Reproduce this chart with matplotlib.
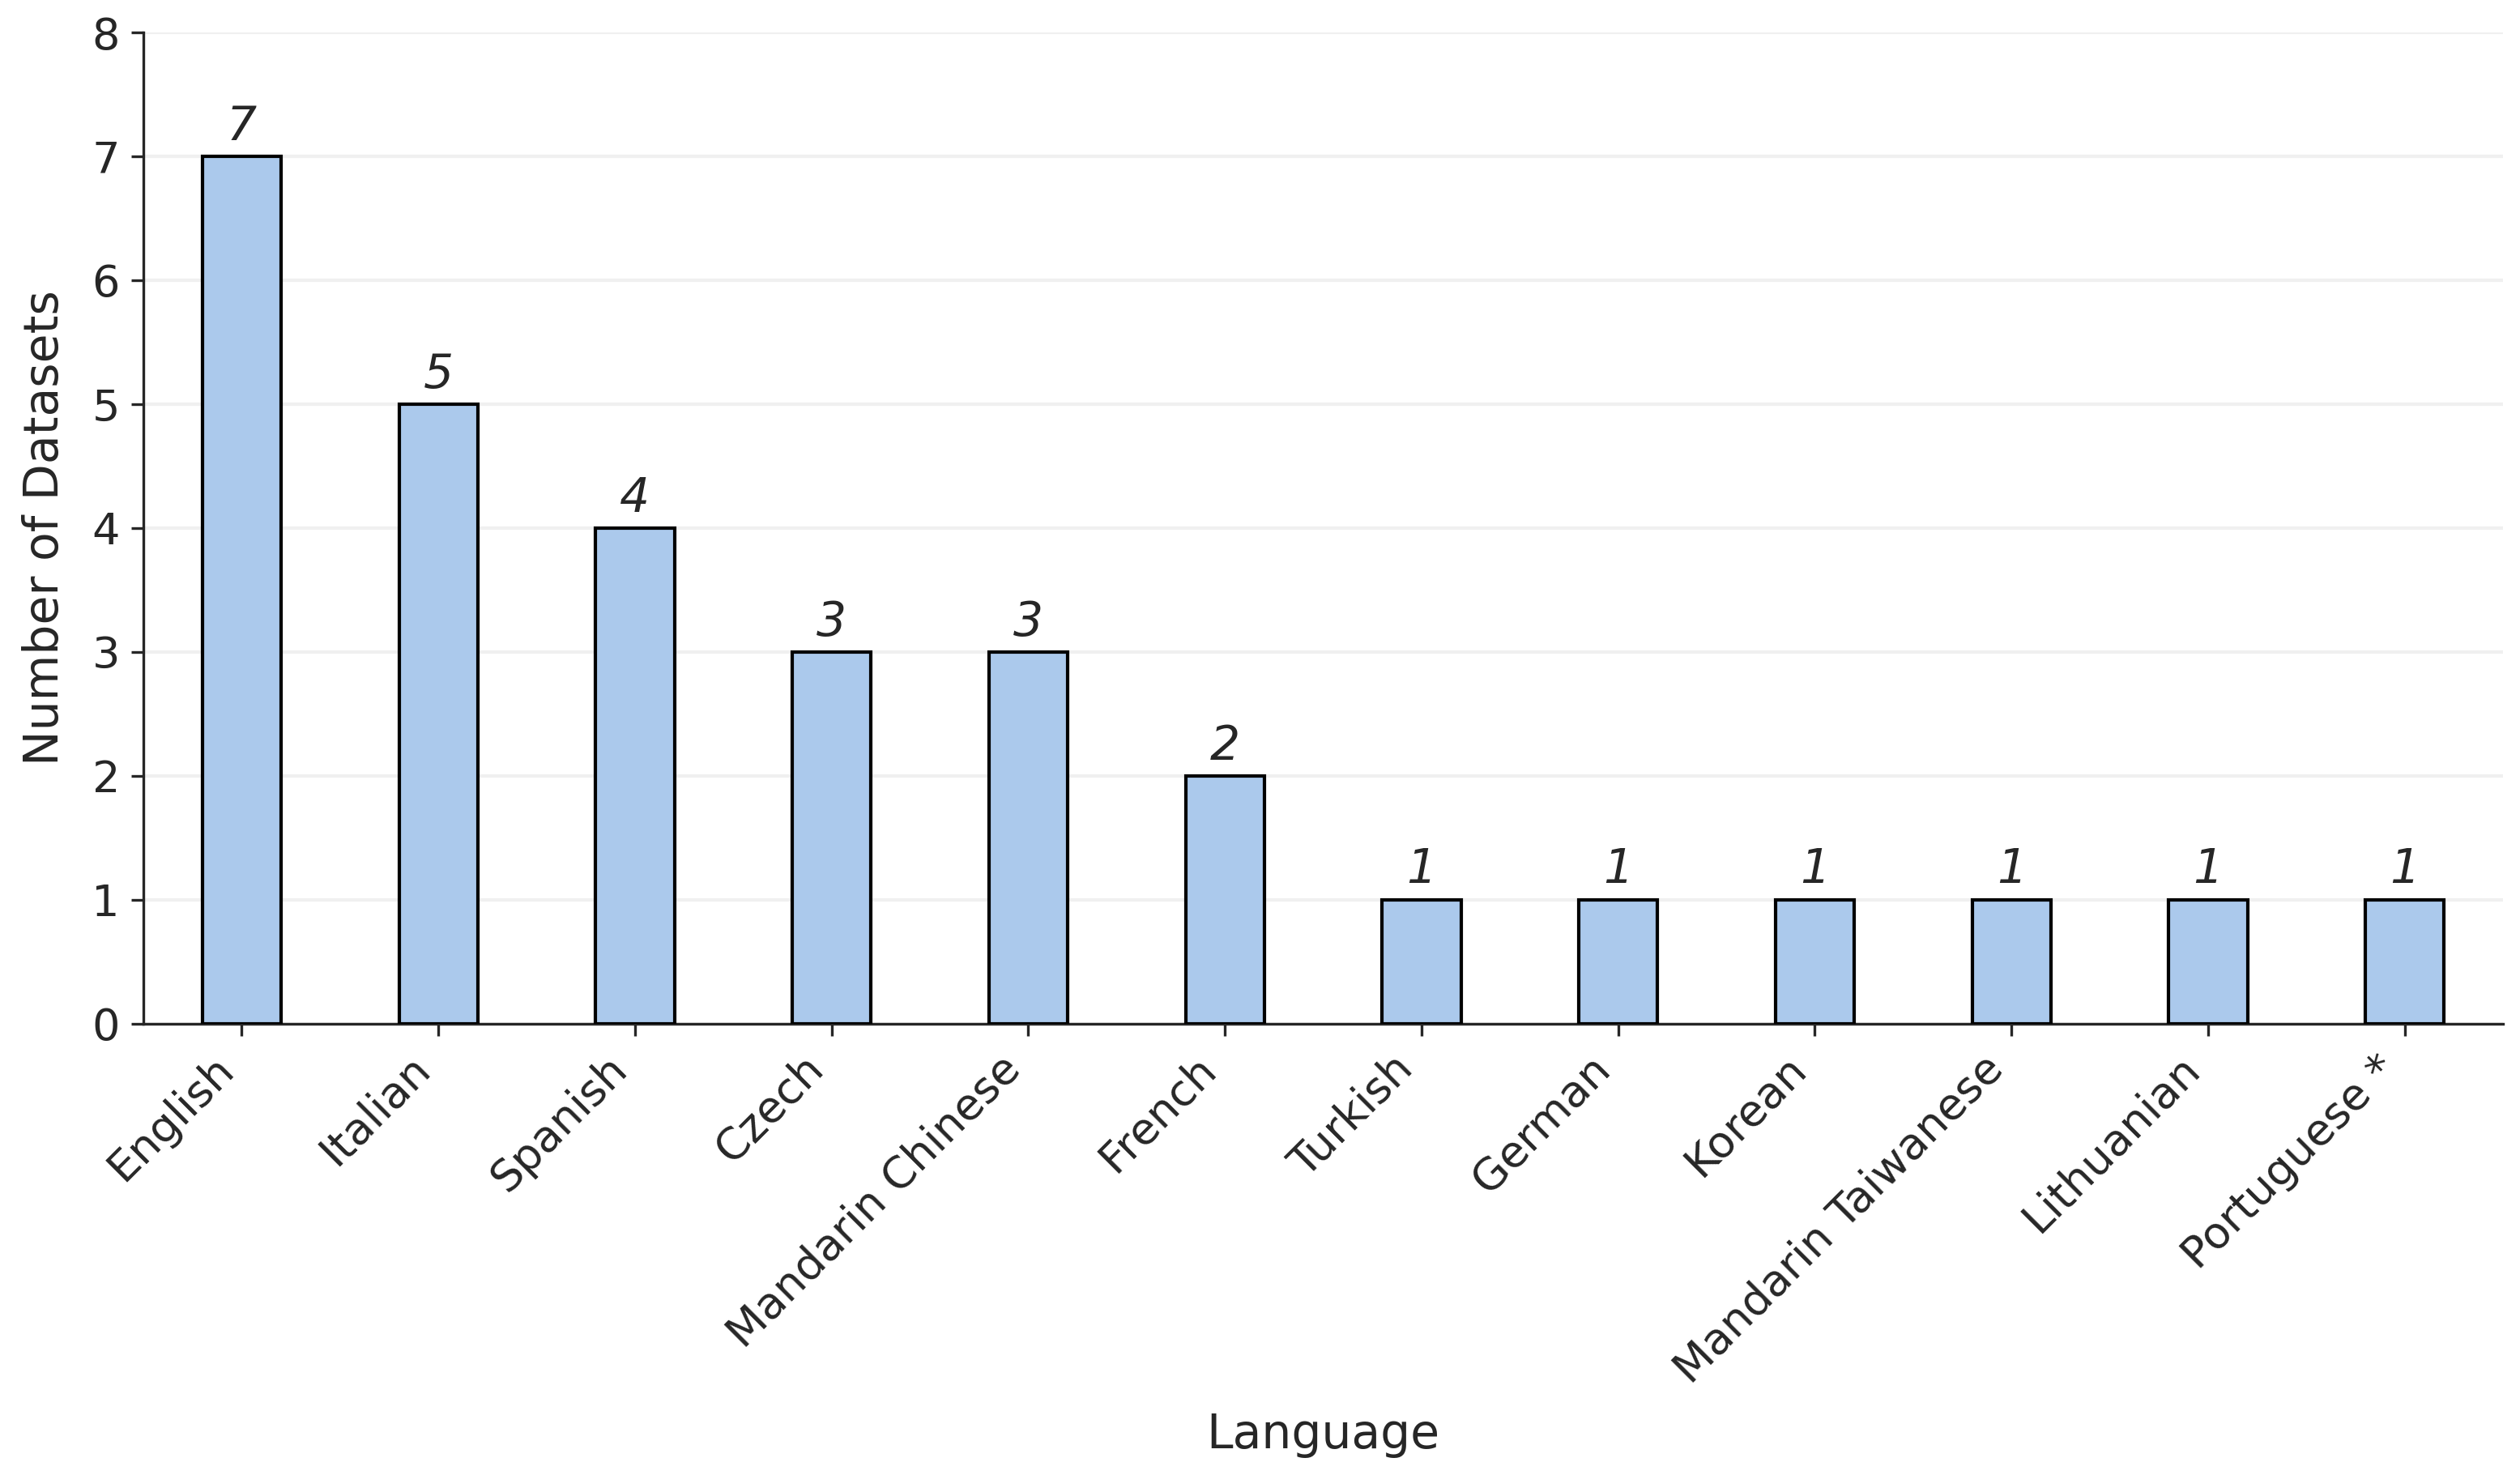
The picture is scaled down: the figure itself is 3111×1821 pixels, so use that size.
import matplotlib
matplotlib.use('Agg')
import matplotlib.pyplot as plt
import seaborn as sns

languages = ['English', 'Italian', 'Spanish', 'Czech', 'Mandarin Chinese', 'French',
             'Turkish', 'German', 'Korean', 'Mandarin Taiwanese', 'Lithuanian', 'Portuguese *']
counts = [7, 5, 4, 3, 3, 2, 1, 1, 1, 1, 1, 1]

sns.set_style('ticks')
plt.rcParams['font.family'] = ['DejaVu Sans']

fig = plt.figure(figsize=(10.373, 6.07), dpi=300)
ax = fig.add_axes([0.0569, 0.306, 0.9361, 0.672])

bars = ax.bar(range(len(languages)), counts, width=0.4, color='#abc9ec',
              edgecolor='black', linewidth=1.0, zorder=3)
ax.bar_label(bars, labels=[str(c) for c in counts], padding=2, fontsize=14,
             fontstyle='italic', color='#262626')

ax.set_xlim(-0.5, 11.5)
ax.set_ylim(0, 8)
ax.set_yticks(range(0, 9))
ax.set_xticks(range(len(languages)))
ax.set_xticklabels(languages, rotation=45, ha='right', fontsize=13)
ax.tick_params(axis='y', labelsize=13)
ax.set_xlabel('Language', fontsize=14, labelpad=6)
ax.set_ylabel('Number of Datasets', fontsize=14, labelpad=7)
ax.grid(axis='y', color='#f0f0f0', linewidth=1.0, zorder=0)
sns.despine(ax=ax)

fig.savefig('out.png', dpi=300)
